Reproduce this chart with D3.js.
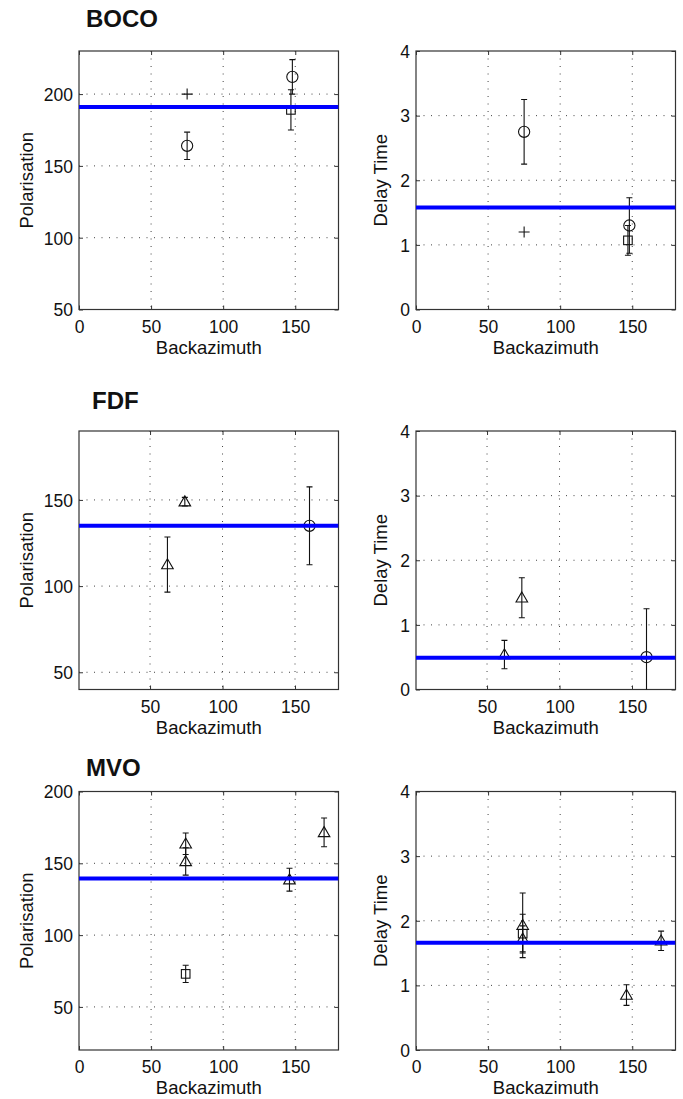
<!DOCTYPE html>
<html><head><meta charset="utf-8">
<script src="https://cdn.jsdelivr.net/npm/d3@7"></script>
<style>
html,body{margin:0;padding:0;background:#fff;}
svg{display:block;}
text{font-family:"Liberation Sans",Arial,Helvetica,sans-serif;fill:#111;}
</style></head>
<body>
<svg id="chart" width="683" height="1099"></svg>
<script>
// ---------- DATA ----------
const stations = ["BOCO", "FDF", "MVO"];
const xTicks = [0, 50, 100, 150];

// BOCO
const bocoBaz     = [75, 75, 148, 147];
const bocoMarker  = ["plus", "circle", "circle", "square"];
const bocoPol     = [200, 164, 212, 189];
const bocoPolErr  = [0, 9.5, 12, 14];
const bocoDt      = [1.2, 2.75, 1.3, 1.07];
const bocoDtErr   = [0, 0.5, 0.43, 0.23];
const bocoMeanPol = 191;
const bocoMeanDt  = 1.58;
const bocoPolDomain = [50, 230];
const bocoPolTicks  = [50, 100, 150, 200];
const bocoBazDomain = [0, 180];

// FDF
const fdfBaz     = [74, 62, 160];
const fdfMarker  = ["triangle", "triangle", "circle"];
const fdfPol     = [149, 112.5, 135];
const fdfPolErr  = [2.5, 16, 22.6];
const fdfDt      = [1.42, 0.54, 0.5];
const fdfDtErr   = [0.31, 0.22, 0.75];
const fdfMeanPol = 135;
const fdfMeanDt  = 0.49;
const fdfPolDomain = [40, 190];
const fdfPolTicks  = [50, 100, 150];
const fdfBazDomain = [1, 180];

// MVO
const mvoBaz     = [74, 74, 74, 146, 170];
const mvoMarker  = ["triangle", "triangle", "square", "triangle", "triangle"];
const mvoPol     = [163.6, 151.3, 73, 138.6, 171.5];
const mvoPolErr  = [7.5, 9.5, 6, 8, 10];
const mvoDt      = [1.93, 1.72, 1.8, 0.85, 1.69];
const mvoDtErr   = [0.5, 0.2, 0.3, 0.16, 0.15];
const mvoMeanPol = 139.5;
const mvoMeanDt  = 1.66;
const mvoPolDomain = [20, 200];
const mvoPolTicks  = [50, 100, 150, 200];
const mvoBazDomain = [0, 180];

const dtDomain = [0, 4];
const dtTicks  = [0, 1, 2, 3, 4];

// ---------- LAYOUT ----------
const svg = d3.select("#chart");
const colX = [79, 416];
const panelW = 259.5;
const rowY = [51, 431, 791.5];
const panelH = 258.5;
const titlePos = [[86, 27], [92, 409], [86, 776]];

const clipCounter = {n: 0};

function panel(px, py, xDomain, yDomain, yTicks, ylabel, ylabOffset, baz, vals, errs, markers, mean) {
  const x = d3.scaleLinear().domain(xDomain).range([px, px + panelW]);
  const y = d3.scaleLinear().domain(yDomain).range([py + panelH, py]);
  const g = svg.append("g");
  const xt = xTicks.filter(t => t >= xDomain[0] && t <= xDomain[1]);

  // grid (dotted)
  g.append("g").selectAll("line.gx").data(xt.filter(t => t > xDomain[0] && t < xDomain[1])).join("line")
    .attr("x1", d => x(d)).attr("x2", d => x(d)).attr("y1", py).attr("y2", py + panelH)
    .attr("stroke", "#444").attr("stroke-width", 1).attr("stroke-dasharray", "1,6.5");
  g.append("g").selectAll("line.gy").data(yTicks.filter(t => t > yDomain[0] && t < yDomain[1])).join("line")
    .attr("x1", px).attr("x2", px + panelW).attr("y1", d => y(d)).attr("y2", d => y(d))
    .attr("stroke", "#444").attr("stroke-width", 1).attr("stroke-dasharray", "1,6.5");

  // inward ticks via d3 axes
  const tl = 4;
  const axB = g.append("g").attr("transform", `translate(0,${py + panelH})`)
    .call(d3.axisBottom(x).tickValues(xt).tickSize(-tl).tickPadding(8).tickFormat(d3.format("d")));
  const axT = g.append("g").attr("transform", `translate(0,${py})`)
    .call(d3.axisTop(x).tickValues(xt).tickSize(-tl).tickFormat(""));
  const axL = g.append("g").attr("transform", `translate(${px},0)`)
    .call(d3.axisLeft(y).tickValues(yTicks).tickSize(-tl).tickPadding(8).tickFormat(d3.format("d")));
  const axR = g.append("g").attr("transform", `translate(${px + panelW},0)`)
    .call(d3.axisRight(y).tickValues(yTicks).tickSize(-tl).tickFormat(""));
  [axB, axT, axL, axR].forEach(a => {
    a.select(".domain").remove();
    a.selectAll(".tick line").attr("stroke", "#333");
  });
  axB.selectAll(".tick text").attr("font-size", 17.5).attr("fill", "#111")
    .attr("dy", null).attr("y", 23);
  axL.selectAll(".tick text").attr("font-size", 17.5).attr("fill", "#111")
    .attr("x", -6).attr("dy", "0.36em");

  // frame
  g.append("rect").attr("x", px).attr("y", py).attr("width", panelW).attr("height", panelH)
    .attr("fill", "none").attr("stroke", "#333").attr("stroke-width", 1.2);

  // axis labels
  g.append("text").attr("x", px + panelW / 2).attr("y", py + panelH + 44)
    .attr("text-anchor", "middle").attr("font-size", 18.5).text("Backazimuth");
  g.append("text").attr("transform", `translate(${px - ylabOffset},${py + panelH / 2}) rotate(-90)`)
    .attr("text-anchor", "middle").attr("font-size", 18.5).text(ylabel);

  // clip
  const cid = "clip" + (clipCounter.n++);
  svg.append("clipPath").attr("id", cid).append("rect")
    .attr("x", px).attr("y", py).attr("width", panelW).attr("height", panelH);
  const dg = g.append("g").attr("clip-path", `url(#${cid})`);

  const pts = baz.map((b, i) => ({b, v: vals[i], e: errs[i], m: markers[i]}));

  // error bars
  const cap = 3;
  const eb = dg.append("g").attr("stroke", "#111").attr("stroke-width", 1.1).attr("fill", "none");
  pts.filter(p => p.e > 0).forEach(p => {
    const cx = x(p.b);
    eb.append("line").attr("x1", cx).attr("x2", cx).attr("y1", y(p.v - p.e)).attr("y2", y(p.v + p.e));
    eb.append("line").attr("x1", cx - cap).attr("x2", cx + cap).attr("y1", y(p.v - p.e)).attr("y2", y(p.v - p.e));
    eb.append("line").attr("x1", cx - cap).attr("x2", cx + cap).attr("y1", y(p.v + p.e)).attr("y2", y(p.v + p.e));
  });

  // markers
  const mg = dg.append("g").attr("stroke", "#111").attr("stroke-width", 1.1).attr("fill", "none");
  pts.forEach(p => {
    const cx = x(p.b), cy = y(p.v);
    if (p.m === "circle") {
      mg.append("circle").attr("cx", cx).attr("cy", cy).attr("r", 5.6);
    } else if (p.m === "square") {
      mg.append("rect").attr("x", cx - 4.3).attr("y", cy - 4.3).attr("width", 8.6).attr("height", 8.6);
    } else if (p.m === "plus") {
      mg.append("path").attr("d", `M${cx - 5.5},${cy}H${cx + 5.5}M${cx},${cy - 5.5}V${cy + 5.5}`);
    } else if (p.m === "triangle") {
      mg.append("path").attr("d", `M${cx},${cy - 5.8}L${cx + 5.8},${cy + 4.2}L${cx - 5.8},${cy + 4.2}Z`);
    }
  });

  // mean line (blue)
  dg.append("line").attr("x1", px).attr("x2", px + panelW).attr("y1", y(mean)).attr("y2", y(mean))
    .attr("stroke", "#0000ff").attr("stroke-width", 4);
}

const polDomains = [bocoPolDomain, fdfPolDomain, mvoPolDomain];
const polTicks = [bocoPolTicks, fdfPolTicks, mvoPolTicks];
const bazDomains = [bocoBazDomain, fdfBazDomain, mvoBazDomain];
const bazs = [bocoBaz, fdfBaz, mvoBaz];
const pols = [bocoPol, fdfPol, mvoPol];
const polErrs = [bocoPolErr, fdfPolErr, mvoPolErr];
const dts = [bocoDt, fdfDt, mvoDt];
const dtErrs = [bocoDtErr, fdfDtErr, mvoDtErr];
const markerSets = [bocoMarker, fdfMarker, mvoMarker];
const meanPols = [bocoMeanPol, fdfMeanPol, mvoMeanPol];
const meanDts = [bocoMeanDt, fdfMeanDt, mvoMeanDt];

stations.forEach((s, i) => {
  svg.append("text").attr("x", titlePos[i][0]).attr("y", titlePos[i][1])
    .attr("font-size", 24).attr("font-weight", "bold").text(s);
  panel(colX[0], rowY[i], bazDomains[i], polDomains[i], polTicks[i], "Polarisation", 46.5,
        bazs[i], pols[i], polErrs[i], markerSets[i], meanPols[i]);
  panel(colX[1], rowY[i], bazDomains[i], dtDomain, dtTicks, "Delay Time", 29,
        bazs[i], dts[i], dtErrs[i], markerSets[i], meanDts[i]);
});
</script>
</body></html>
